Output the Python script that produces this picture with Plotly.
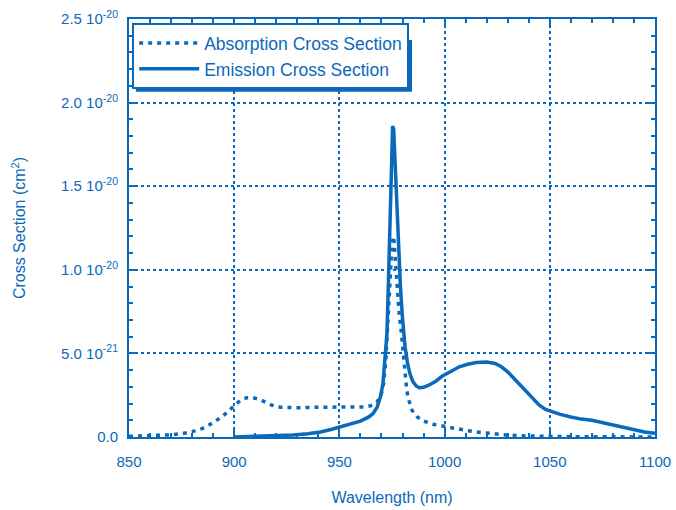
import plotly.graph_objects as go

BLUE = "#0a69bb"

# Wavelength (nm) and cross sections (in units of 1e-20 cm^2)
abs_wl = [850, 855, 860, 865, 870, 875, 880, 885, 890, 895, 900, 903, 906, 909, 912, 915,
          918, 922, 930, 940, 950, 958, 962, 966, 968, 970, 971, 972, 973, 974, 975,
          975.8, 976.6, 977.4, 978.4, 979.4, 980.2, 981, 982, 983, 984.5, 987, 990,
          995, 1000, 1005, 1010, 1015, 1020, 1025, 1030, 1040, 1050, 1060, 1100]
abs_val = [0.004, 0.006, 0.008, 0.01, 0.013, 0.02, 0.032, 0.052, 0.085, 0.13, 0.185, 0.22,
           0.235, 0.235, 0.225, 0.205, 0.19, 0.178, 0.175, 0.178, 0.18, 0.18, 0.18, 0.19,
           0.21, 0.26, 0.32, 0.45, 0.68, 0.95, 1.15, 1.2, 1.05, 0.88, 0.74, 0.63, 0.52,
           0.4, 0.28, 0.22, 0.16, 0.12, 0.095, 0.075, 0.062, 0.05, 0.04, 0.03, 0.022,
           0.016, 0.011, 0.006, 0.004, 0.002, 0.0]

em_wl = [900, 910, 920, 928, 935, 941, 946, 950, 955, 960, 964, 966, 968, 969.5, 970.7,
         971.7, 972.6, 973.2, 973.8, 974.3, 974.8, 975.3, 975.8, 976.3, 976.8, 977.4, 978.1,
         979, 980, 981.2, 982.4, 983.6, 985, 986.5, 988, 990, 992.5, 996, 999, 1003, 1007,
         1011, 1015, 1020, 1024, 1027, 1030, 1033, 1036, 1039, 1042, 1045, 1048, 1051,
         1055, 1060, 1065, 1070, 1075, 1080, 1085, 1090, 1095, 1100]
em_val = [0.0, 0.003, 0.007, 0.012, 0.02, 0.03, 0.045, 0.06, 0.075, 0.095, 0.12, 0.14,
          0.18, 0.24, 0.32, 0.45, 0.62, 0.88, 1.15, 1.45, 1.72, 1.86, 1.84, 1.7, 1.5,
          1.28, 1.1, 0.9, 0.71, 0.54, 0.44, 0.375, 0.33, 0.305, 0.295, 0.297, 0.31, 0.335,
          0.365, 0.395, 0.42, 0.435, 0.445, 0.448, 0.44, 0.42, 0.39, 0.35, 0.31, 0.265,
          0.225, 0.19, 0.165, 0.15, 0.135, 0.12, 0.107, 0.1, 0.085, 0.07, 0.055, 0.04,
          0.03, 0.022]

x_ticks = [850, 900, 950, 1000, 1050, 1100]
y_ticks = [0, 0.5, 1.0, 1.5, 2.0, 2.5]
y_ticktext = ["0.0", "5.0 10<sup>-21</sup>", "1.0 10<sup>-20</sup>", "1.5 10<sup>-20</sup>",
              "2.0 10<sup>-20</sup>", "2.5 10<sup>-20</sup>"]

fig = go.Figure()
fig.add_trace(go.Scatter(x=abs_wl, y=abs_val, mode="lines", name="Absorption Cross Section",
                         line=dict(color=BLUE, width=3.5, dash="4px,5px")))
fig.add_trace(go.Scatter(x=em_wl, y=em_val, mode="lines", name="Emission Cross Section",
                         line=dict(color=BLUE, width=3.5)))

axis_common = dict(
    showline=True, linecolor=BLUE, linewidth=2, mirror="allticks",
    showgrid=True, gridcolor=BLUE, gridwidth=1.5, griddash="dot",
    ticks="inside", ticklen=7, tickcolor=BLUE, tickwidth=1.5,
    zeroline=False, automargin=False, ticklabeloverflow="allow",
)

fig.update_xaxes(range=[850, 1100], tickvals=x_ticks, tickfont=dict(color=BLUE, size=15),
                 ticklabelstandoff=10,
                 minor=dict(dtick=10, ticks="inside", ticklen=4, tickcolor=BLUE, tickwidth=1.5, showgrid=False),
                 title=dict(text="Wavelength (nm)", font=dict(color=BLUE, size=16), standoff=23),
                 **axis_common)
fig.update_yaxes(range=[0, 2.5], tickvals=y_ticks, ticktext=y_ticktext,
                 tickfont=dict(color=BLUE, size=15), ticklabelstandoff=6,
                 minor=dict(dtick=0.1, ticks="inside", ticklen=4, tickcolor=BLUE, tickwidth=1.5, showgrid=False),
                 title=dict(text="Cross Section (cm<sup>2</sup>)", font=dict(color=BLUE, size=16), standoff=31),
                 **axis_common)

# legend shadow
fig.add_shape(type="rect", xref="paper", yref="paper", x0=0.013, x1=0.538, y0=0.826, y1=0.95,
              fillcolor=BLUE, line=dict(width=0), layer="above")

fig.update_layout(
    width=676, height=510,
    margin=dict(l=129, r=21, t=19, b=73),
    paper_bgcolor="white", plot_bgcolor="white",
    font=dict(family="Liberation Sans, Arial, sans-serif", color=BLUE, size=14),
    showlegend=True,
    legend=dict(x=0.006, y=0.99, xanchor="left", yanchor="top",
                bgcolor="white", bordercolor=BLUE, borderwidth=2,
                font=dict(size=17.5, color=BLUE), tracegroupgap=0,
                itemwidth=60),
)

fig.write_html("out.html")
